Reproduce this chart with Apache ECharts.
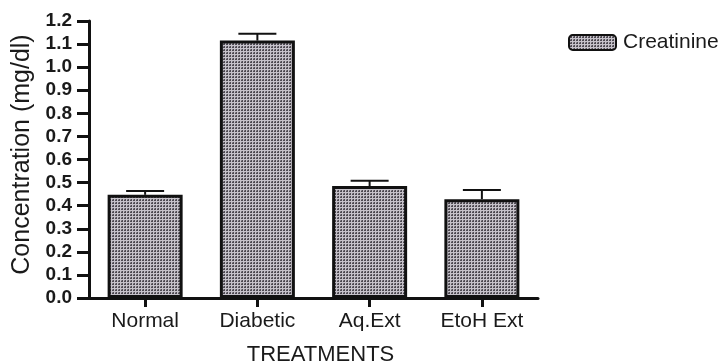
<!DOCTYPE html>
<html>
<head>
<meta charset="utf-8">
<script src="https://cdn.jsdelivr.net/npm/echarts@6/dist/echarts.min.js"></script>
<style>html,body{margin:0;padding:0;background:#fff}#c{width:722px;height:362px}</style>
</head>
<body>
<div id="c"></div>
<script>
var categories = ['Normal', 'Diabetic', 'Aq.Ext', 'EtoH Ext'];
var creatinine = [0.447, 1.115, 0.485, 0.428];
var errorUpper = [0.463, 1.145, 0.508, 0.468];
var seriesName = 'Creatinine';
var xTitle = 'TREATMENTS';
var yTitle = 'Concentration (mg/dl)';

function makePattern() {
  var cv = document.createElement('canvas');
  cv.width = 3; cv.height = 3;
  var ctx = cv.getContext('2d');
  ctx.fillStyle = '#c6c2ca';
  ctx.fillRect(0, 0, 3, 3);
  ctx.fillStyle = '#4e4a52';
  ctx.fillRect(1, 1, 2, 2);
  ctx.fillStyle = '#8a868e';
  ctx.fillRect(1, 1, 1, 1);
  return cv;
}
var pat = { image: makePattern(), repeat: 'repeat' };
var font = 'Liberation Sans, Arial, sans-serif';

var chart = echarts.init(document.getElementById('c'));
chart.setOption({
  animation: false,
  backgroundColor: '#fff',
  grid: { left: 89, right: 184, top: 21, bottom: 64, outerBoundsMode: 'none', containLabel: false },
  legend: {
    data: [seriesName],
    left: 563, top: 27,
    itemWidth: 47, itemHeight: 15, itemGap: 10,
    textStyle: { fontSize: 21, color: '#1a1a1a', fontFamily: font, padding: [0, 0, 0, 2] }
  },
  xAxis: {
    type: 'category',
    data: categories,
    name: xTitle,
    nameLocation: 'middle',
    nameGap: 46,
    nameTextStyle: { fontSize: 22, color: '#1a1a1a', fontFamily: font, padding: [0, 0, 0, 14] },
    axisLine: { show: true, lineStyle: { color: '#111', width: 3 } },
    axisTick: { show: true, alignWithLabel: true, length: 9, lineStyle: { color: '#111', width: 3 } },
    axisLabel: { fontSize: 21, color: '#1a1a1a', fontFamily: font, margin: 13 }
  },
  yAxis: {
    type: 'value',
    min: 0, max: 1.2, interval: 0.1,
    name: yTitle,
    nameLocation: 'middle',
    nameGap: 47,
    nameTextStyle: { fontSize: 25, color: '#1a1a1a', fontFamily: font, padding: [0, 0, 0, 10] },
    axisLine: { show: true, lineStyle: { color: '#111', width: 3 } },
    axisTick: { show: true, inside: false, length: 12, lineStyle: { color: '#111', width: 3 } },
    axisLabel: { fontSize: 19, fontWeight: 'bold', color: '#1a1a1a', fontFamily: font, margin: 17,
      formatter: function (v) { return v.toFixed(1); } },
    splitLine: { show: false }
  },
  series: [
    {
      name: seriesName,
      type: 'bar',
      data: creatinine,
      barWidth: 75,
      itemStyle: { color: pat, borderColor: '#111', borderWidth: 3 }
    },
    {
      type: 'custom',
      name: 'err',
      data: categories.map(function (c, i) { return [i, creatinine[i], errorUpper[i]]; }),
      renderItem: function (params, api) {
        var i = api.value(0);
        var top = api.coord([i, api.value(1)]);
        var up = api.coord([i, api.value(2)]);
        var half = 19;
        return {
          type: 'group',
          children: [
            { type: 'line', shape: { x1: top[0], y1: top[1], x2: up[0], y2: up[1] }, style: { stroke: '#111', lineWidth: 2 } },
            { type: 'line', shape: { x1: up[0] - half, y1: up[1], x2: up[0] + half, y2: up[1] }, style: { stroke: '#111', lineWidth: 2 } }
          ]
        };
      },
      z: 3
    }
  ]
});
</script>
</body>
</html>
